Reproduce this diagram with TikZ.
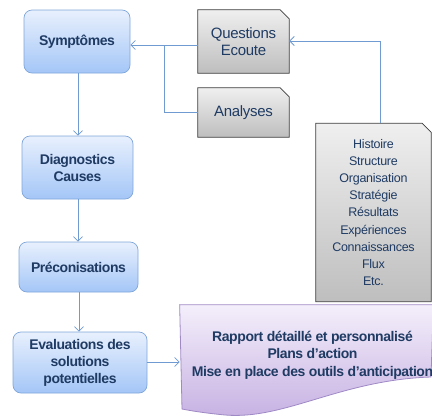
\documentclass[tikz,border=0pt]{standalone}
\usepackage{fontspec}
\setmainfont{Liberation Sans}
\newfontfamily\tightbf[LetterSpace=-3]{Liberation Sans Bold}
\newfontfamily\tightrm[LetterSpace=-2]{Liberation Sans}
\usetikzlibrary{arrows.meta,backgrounds}
\definecolor{txt}{HTML}{1F3B63}
\definecolor{conn}{HTML}{6F9AD2}
\definecolor{bluetop}{HTML}{E8F0FD}
\definecolor{bluebot}{HTML}{A4C6F7}
\definecolor{blueedge}{HTML}{7FA6DA}
\definecolor{graytop}{HTML}{EFEFEF}
\definecolor{graybot}{HTML}{BEBEBE}
\definecolor{grayedge}{HTML}{3C3C3C}
\definecolor{purtop}{HTML}{F4EFFB}
\definecolor{purbot}{HTML}{C6B0E2}
\definecolor{puredge}{HTML}{A08AC6}
\tikzset{
  bluebox/.style={draw=blueedge, line width=0.7pt, rounded corners=8pt,
    top color=bluetop, bottom color=bluebot, text=txt, align=center,
    font=\tightbf\fontsize{14}{17}\selectfont, inner sep=0pt},
  graybox/.style={draw=none, text=txt, align=center,
    font=\tightrm\fontsize{15}{17.5}\selectfont, inner sep=0pt},
  grayshape/.style={draw=grayedge, line width=0.8pt, top color=graytop, bottom color=graybot},
  arr/.style={draw=conn, line width=0.8pt, -{Straight Barb[length=4.5pt,width=9pt]}},
  ln/.style={draw=conn, line width=0.8pt},
}
\begin{document}
\begin{tikzpicture}[x=1pt,y=-1pt]
\useasboundingbox (0,0) rectangle (432,416);
% blue boxes
\node[bluebox, minimum width=106pt, minimum height=63pt] (sym) at (77,41.5) {Symptômes};
\node[bluebox, minimum width=111pt, minimum height=63pt] (diag) at (77.5,167.5) {Diagnostics\\Causes};
\node[bluebox, minimum width=119pt, minimum height=50pt] (prec) at (78.5,267) {Préconisations};
\node[bluebox, minimum width=134pt, minimum height=61pt] (eval) at (80,362.5) {Evaluations des\\solutions\\potentielles};
% gray boxes
\node[graybox, minimum width=91pt, minimum height=63pt] (ques) at (243.5,41.5) {Questions\\Ecoute};
\node[graybox, minimum width=91pt, minimum height=49pt] (ana) at (243.5,112.5) {Analyses};
\node[graybox, minimum width=115pt, minimum height=178pt, font=\tightrm\fontsize{12.5}{17.1}\selectfont] (hist) at (373.5,212.5)
  {Histoire\\Structure\\Organisation\\Stratégie\\Résultats\\Expériences\\Connaissances\\Flux\\Etc.};
% document box
\node[draw=none, text=txt, align=center, font=\tightbf\fontsize{14}{17.5}\selectfont, inner sep=0pt,
  minimum width=249pt, minimum height=100pt] (rap) at (306.5,355)
  {\hspace*{12pt}Rapport détaillé et personnalisé\\\hspace*{12pt}Plans d’action\\\hspace*{12pt}Mise en place des outils d’anticipation};
\begin{pgfonlayer}{background}
  \foreach \n in {ques,ana,hist}{
    \path[grayshape] (\n.north west) -- ([xshift=-9pt]\n.north east) -- ([yshift=-9pt]\n.north east)
      -- (\n.south east) -- (\n.south west) -- cycle;
  }
  \path[draw=puredge, line width=0.8pt, top color=purtop, bottom color=purbot]
    (rap.north west) -- (rap.north east) -- (431,377)
    .. controls (340,380) and (285,420) .. (225,415)
    .. controls (205,413) and (192,411) .. (182,409) -- cycle;
\end{pgfonlayer}
% connectors
\coordinate (j) at (164,45);
\draw[arr] (ques.west |- j) -- (sym.east |- j);
\draw[ln] (ana.west) -| (j);
\draw[arr] ([xshift=6.5pt]hist.north) |- ([yshift=0.5pt]ques.east);
\draw[arr] (sym.south -| 78,0) -- (diag.north -| 78,0);
\draw[arr] (diag.south -| 78,0) -- (prec.north -| 78,0);
\draw[arr] (prec.south -| 79,0) -- (eval.north -| 79,0);
\draw[arr] (eval.east |- 0,362) -- (rap.west |- 0,362);
\end{tikzpicture}
\end{document}
